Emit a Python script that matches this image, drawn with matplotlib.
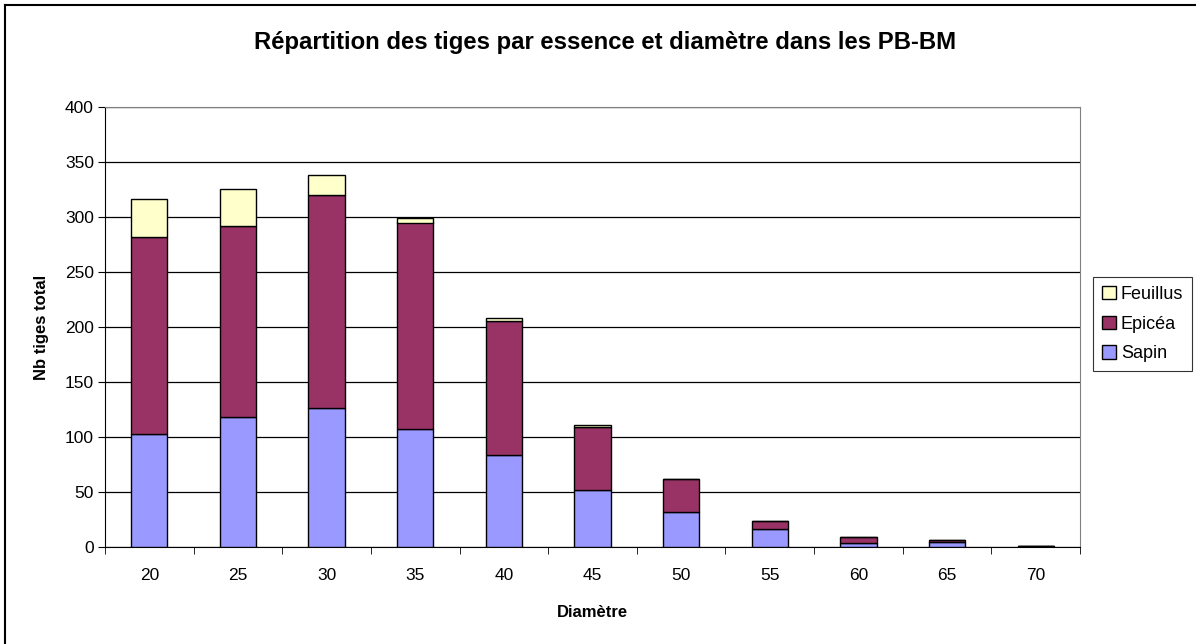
import matplotlib
matplotlib.use("Agg")
import matplotlib.pyplot as plt
import numpy as np
from matplotlib.lines import Line2D

diametres = ["20", "25", "30", "35", "40", "45", "50", "55", "60", "65", "70"]
sapin = [103, 118, 126, 107, 84, 52, 32, 16, 4, 4.5, 0.5]
epicea = [179, 174, 194, 188, 121, 57, 30, 8, 5, 1.5, 0.5]
feuillus = [34, 33, 18, 4, 3, 1.5, 0, 0, 0, 0, 0]

fig = plt.figure(figsize=(11.96, 6.44), dpi=100)
ax = fig.add_axes([105/1196, 1-547/644, (1080-105)/1196, (547-107)/644])

FONT = "Liberation Sans"
x = np.arange(len(diametres))
w = 0.41
s = np.array(sapin); e = np.array(epicea); f = np.array(feuillus)
ax.bar(x, s, w, color="#9999FF", edgecolor="black", linewidth=1, label="Sapin", zorder=3)
ax.bar(x, e, w, bottom=s, color="#993366", edgecolor="black", linewidth=1, label="Epicéa", zorder=3)
ax.bar(x, f, w, bottom=s+e, color="#FFFFCC", edgecolor="black", linewidth=1, label="Feuillus", zorder=3)

ax.set_xlim(-0.5, len(diametres)-0.5)
ax.set_ylim(0, 400)
ax.set_yticks(range(0, 401, 50))
ax.yaxis.grid(True, color="black", linewidth=0.9, zorder=0)
ax.set_axisbelow(True)
ax.set_xticks(x)
ax.set_xticklabels(diametres)
ax.set_xticks(np.arange(-0.5, len(diametres), 1), minor=True)
ax.tick_params(axis="x", which="major", length=0, labelsize=12.5, pad=15)
ax.tick_params(axis="x", which="minor", length=5, direction="out", color="black")
ax.tick_params(axis="y", length=5, direction="out", labelsize=12.5, pad=3)
for lab in ax.get_xticklabels() + ax.get_yticklabels():
    lab.set_fontfamily(FONT)
ax.spines["top"].set_color("#808080")
ax.spines["right"].set_color("#808080")
ax.spines["left"].set_color("black")
ax.spines["bottom"].set_color("black")

ax.set_ylabel("Nb tiges total", fontsize=12, fontweight="bold", family=FONT, labelpad=11)
ax.set_xlabel("Diamètre", fontsize=12, fontweight="bold", family=FONT, labelpad=16)

fig.text(605/1196, 1-42/644, "Répartition des tiges par essence et diamètre dans les PB-BM",
         ha="center", va="center", fontsize=17.2, fontweight="bold", family=FONT)

handles, labels = ax.get_legend_handles_labels()
leg = fig.legend(handles[::-1], labels[::-1], loc="upper left",
                 bbox_to_anchor=(1093/1196, 1-277/644), frameon=True, fancybox=False,
                 edgecolor="black", prop={"family": FONT, "size": 13},
                 handlelength=0.75, handleheight=0.75, handletextpad=0.3, borderpad=0.5,
                 labelspacing=0.7, borderaxespad=0)
leg.get_frame().set_linewidth(0.8)

# outer chart border (only left and top visible in the crop)
fig.add_artist(Line2D([5/1196, 5/1196], [0, 1-5/644], transform=fig.transFigure, color="black", linewidth=1.5))
fig.add_artist(Line2D([5/1196, 1], [1-5/644, 1-5/644], transform=fig.transFigure, color="black", linewidth=1.5))

fig.savefig("out.png", dpi=100)
